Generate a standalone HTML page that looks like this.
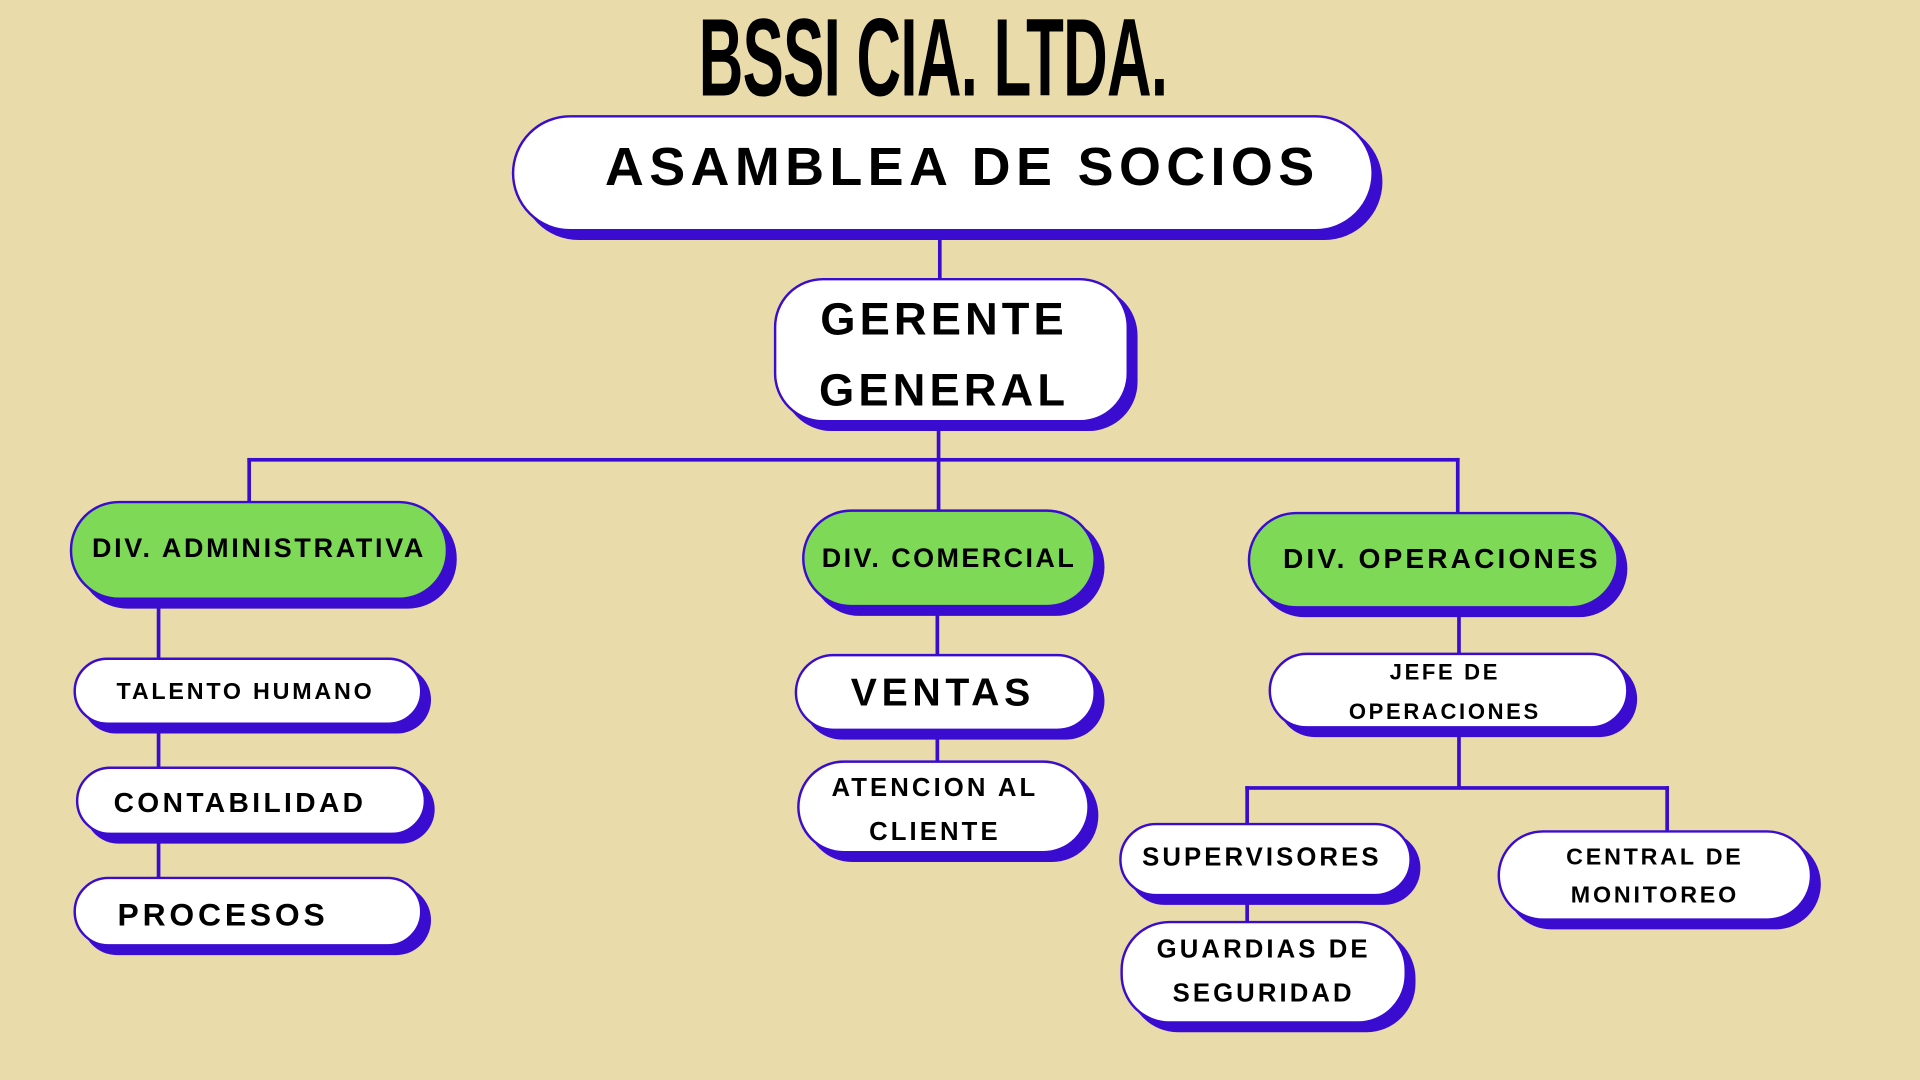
<!DOCTYPE html>
<html><head><meta charset="utf-8"><style>
html,body{margin:0;padding:0;width:1920px;height:1080px;overflow:hidden;background:#E9DCAA;}
#w{position:absolute;left:0;top:0;width:1568px;height:882px;transform:scale(1.22449);transform-origin:0 0;background:#E9DCAA;font-family:"Liberation Sans",Arial,sans-serif;font-weight:bold;color:#000;}
.b{position:absolute;box-sizing:border-box;background:#fff;border:2px solid #3A0CD0;border-radius:40px;box-shadow:7px 7px 0 #3A0CD0;display:flex;align-items:center;justify-content:center;text-align:center;letter-spacing:0.12em;}
.g{background:#7ED957;}
.l{position:absolute;background:#3A0CD0;}
.t{position:absolute;white-space:nowrap;}
</style></head><body><div id="w">
<div class="t" style="left:362px;top:0px;width:800px;text-align:center;font-size:90px;transform:scaleX(0.56);transform-origin:400px 0;letter-spacing:-1px;line-height:96px;">BSSI CIA. LTDA.</div>

<div class="l" style="left:766px;top:189px;width:3px;height:40px"></div>
<div class="l" style="left:765px;top:345px;width:3px;height:72px"></div>
<div class="l" style="left:202px;top:374px;width:990px;height:3px"></div>
<div class="l" style="left:202px;top:374px;width:3px;height:36px"></div>
<div class="l" style="left:1189px;top:374px;width:3px;height:45px"></div>
<div class="l" style="left:128px;top:490px;width:3px;height:228px"></div>
<div class="l" style="left:764px;top:496px;width:3px;height:128px"></div>
<div class="l" style="left:1190px;top:497px;width:3px;height:147px"></div>
<div class="l" style="left:1017px;top:642px;width:346px;height:3px"></div>
<div class="l" style="left:1017px;top:642px;width:3px;height:112px"></div>
<div class="l" style="left:1360px;top:642px;width:3px;height:38px"></div>

<div class="b" style="left:418px;top:94px;width:704px;height:95px;border-radius:48px;font-size:44px;justify-content:flex-start;padding-left:74px;letter-spacing:0.1em;padding-bottom:10px">ASAMBLEA DE SOCIOS</div>
<div class="b" style="left:632px;top:227px;width:290px;height:118px;font-size:37px;line-height:58px;letter-spacing:0.09em;padding-top:8px;padding-right:12px">GERENTE<br>GENERAL</div>

<div class="b g" style="left:57px;top:409px;width:309px;height:81px;font-size:22px;letter-spacing:0.1em;padding-bottom:4px">DIV. ADMINISTRATIVA</div>
<div class="b g" style="left:655px;top:416px;width:240px;height:80px;font-size:22px;letter-spacing:0.09em;padding-bottom:0px">DIV. COMERCIAL</div>
<div class="b g" style="left:1019px;top:418px;width:303px;height:79px;font-size:23px;letter-spacing:0.11em;padding-bottom:2px;padding-left:14px">DIV. OPERACIONES</div>

<div class="b" style="left:60px;top:537px;width:285px;height:55px;font-size:19px;padding-right:4px;padding-top:2px">TALENTO HUMANO</div>
<div class="b" style="left:62px;top:626px;width:286px;height:56px;font-size:23px;padding-right:18px;padding-top:2px">CONTABILIDAD</div>
<div class="b" style="left:60px;top:716px;width:285px;height:57px;font-size:26px;justify-content:flex-start;padding-left:34px;padding-top:6px">PROCESOS</div>

<div class="b" style="left:649px;top:534px;width:246px;height:63px;font-size:32px;padding-bottom:0px;padding-right:4px">VENTAS</div>
<div class="b" style="left:651px;top:621px;width:239px;height:76px;font-size:21px;line-height:36px;padding-top:6px;padding-right:14px">ATENCION AL<br>CLIENTE</div>

<div class="b" style="left:1036px;top:533px;width:294px;height:62px;font-size:18px;line-height:32px;padding-top:2px;padding-right:6px">JEFE DE<br>OPERACIONES</div>
<div class="b" style="left:914px;top:672px;width:239px;height:60px;font-size:21px;padding-bottom:2px;padding-right:6px">SUPERVISORES</div>
<div class="b" style="left:915px;top:752px;width:234px;height:84px;font-size:21px;line-height:36px;padding-top:0px">GUARDIAS DE<br>SEGURIDAD</div>
<div class="b" style="left:1223px;top:678px;width:257px;height:74px;font-size:19px;line-height:31px;padding-top:2px">CENTRAL DE<br>MONITOREO</div>
</div></body></html>
